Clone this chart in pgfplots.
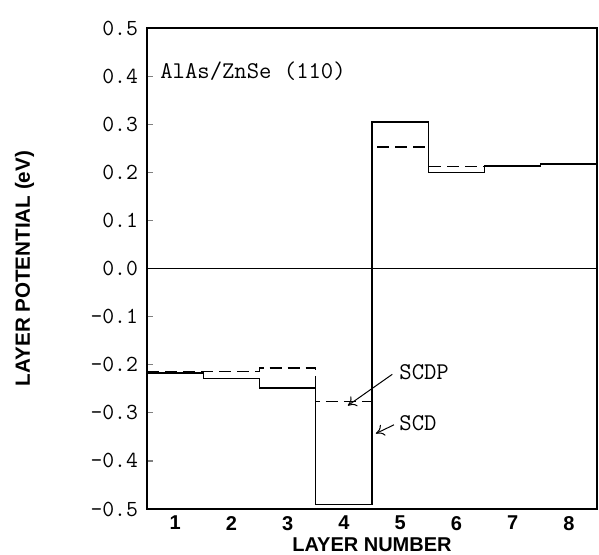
\documentclass[border=0pt]{standalone}
\usepackage{fontspec}
\setsansfont{Liberation Sans}
\usepackage{pgfplots}
\pgfplotsset{compat=1.18}
\usetikzlibrary{arrows.meta}

% step boundaries at half-integer layer positions
\pgfplotstableread{
x     scd     scdp
0.5  -0.217  -0.214
1.5  -0.229  -0.214
2.5  -0.248  -0.207
3.5  -0.490  -0.277
4.5   0.305   0.253
5.5   0.199   0.212
6.5   0.213   0.214
7.5   0.217   0.217
8.5   0.217   0.217
}\layers

\begin{document}
\begin{tikzpicture}
\path[use as bounding box] (-73.5pt,-22.5pt) rectangle (226pt,254.5pt);
\begin{axis}[
    at={(0pt,0pt)}, anchor=south west,
    scale only axis,
    width=225pt, height=240.5pt,
    xmin=0.5, xmax=8.5,
    ymin=-0.5, ymax=0.5,
    axis line style={line width=0.75pt},
    xtick={1,2,3,4,5,6,7,8},
    xticklabels={1,2,3,4,5,6,7,8},
    xtick style={draw=none},
    xticklabel style={font=\fontsize{10}{12}\selectfont\sffamily\bfseries},
    ytick={-0.5,-0.4,-0.3,-0.2,-0.1,0,0.1,0.2,0.3,0.4,0.5},
    yticklabels={-0.5,-0.4,-0.3,-0.2,-0.1,0.0,0.1,0.2,0.3,0.4,0.5},
    ytick pos=left,
    tick align=inside,
    major tick length=3pt,
    ytick style={line width=0.6pt},
    yticklabel style={font=\fontsize{11.5}{12}\selectfont\ttfamily, xshift=-1pt},
    xlabel={LAYER NUMBER},
    ylabel={LAYER POTENTIAL (eV)},
    every axis x label/.style={at={(axis description cs:0.5,0)}, anchor=center, yshift=-18pt,
        font=\fontsize{10}{12}\selectfont\sffamily\bfseries},
    every axis y label/.style={at={(axis description cs:-0.272,0.5)}, anchor=center, rotate=90,
        font=\fontsize{10.3}{12}\selectfont\sffamily\bfseries},
]
% zero line
\addplot[black, line width=0.7pt] coordinates {(0.5,0) (8.5,0)};
% SCD (solid)
\addplot[black, line width=0.7pt, const plot mark left] table[x=x, y=scd] {\layers};
% SCDP (dashed)
\addplot[black, line width=0.7pt, dash pattern=on 6pt off 3pt, const plot mark left] table[x=x, y=scdp] {\layers};

\node[anchor=west, inner sep=0pt, font=\fontsize{12}{12}\selectfont\ttfamily] at (axis cs:0.73,0.41) {AlAs/ZnSe (110)};
\node[anchor=west, inner sep=0pt, font=\fontsize{12}{12}\selectfont\ttfamily] at (axis cs:4.98,-0.216) {SCDP};
\node[anchor=west, inner sep=0pt, font=\fontsize{12}{12}\selectfont\ttfamily] at (axis cs:4.98,-0.322) {SCD};
\draw[-{To[length=4pt,width=6pt]}, line width=0.5pt] (axis cs:4.86,-0.220) -- (axis cs:4.07,-0.285);
\draw[-{To[length=4pt,width=6pt]}, line width=0.5pt] (axis cs:4.89,-0.325) -- (axis cs:4.57,-0.343);
\end{axis}
\end{tikzpicture}
\end{document}
